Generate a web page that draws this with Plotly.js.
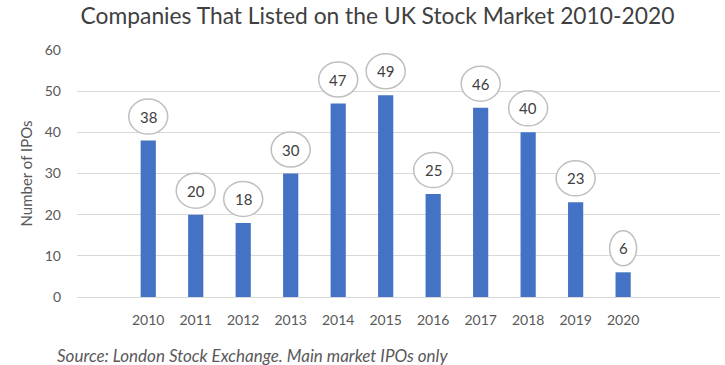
<!DOCTYPE html>
<html>
<head>
<meta charset="utf-8">
<script src="https://cdn.plot.ly/plotly-3.0.1.min.js"></script>
<style>html,body{margin:0;padding:0;background:#fff;}#chart{width:725px;height:365px;}</style>
</head>
<body>
<div id="chart"></div>
<script>
var years = [2010, 2011, 2012, 2013, 2014, 2015, 2016, 2017, 2018, 2019, 2020];
var ipos = [38, 20, 18, 30, 47, 49, 25, 46, 40, 23, 6];
var yTicks = [0, 10, 20, 30, 40, 50, 60];
var tickLabels = years.map(String);

var FONT = 'Lato, "Open Sans", sans-serif';
var TXT = '#595959';

var shapes = years.map(function (yr, i) {
  var w = String(ipos[i]).length > 1 ? 19.5 : 13.5;
  return {
    type: 'circle', xref: 'x', yref: 'y',
    xsizemode: 'pixel', ysizemode: 'pixel',
    xanchor: yr, yanchor: ipos[i],
    x0: -w, x1: w, y0: 6.5, y1: 41.5,
    line: {color: '#bfbfbf', width: 1.5},
    fillcolor: '#ffffff', layer: 'above'
  };
});

var annotations = years.map(function (yr, i) {
  return {
    x: yr, y: ipos[i], xref: 'x', yref: 'y',
    text: String(ipos[i]), showarrow: false,
    yshift: 24, font: {family: FONT, size: 15, color: '#404040'}
  };
});
annotations.push({
  xref: 'paper', yref: 'paper', x: -0.034, y: -0.237,
  xanchor: 'left', yanchor: 'middle', showarrow: false,
  text: '<i>Source: London Stock Exchange. Main market IPOs only</i>',
  font: {family: FONT, size: 17, color: TXT}
});

var data = [{
  type: 'bar', x: years, y: ipos, width: 0.32,
  marker: {color: '#4472c4', line: {width: 0}},
  hoverinfo: 'skip'
}];

var layout = {
  width: 725, height: 365,
  margin: {l: 77, r: 5, t: 50, b: 68},
  paper_bgcolor: '#ffffff', plot_bgcolor: '#ffffff',
  showlegend: false,
  title: {
    text: 'Companies That Listed on the UK Stock Market 2010-2020',
    x: 0.5207, xref: 'container', xanchor: 'center', y: 0.955, yanchor: 'middle',
    font: {family: FONT, size: 22.8, color: '#404040'}
  },
  font: {family: FONT, color: TXT, size: 14},
  xaxis: {
    type: 'linear', range: [2008.5, 2022.04],
    tickmode: 'array', tickvals: years, ticktext: tickLabels,
    showgrid: false, zeroline: false, showline: false, ticks: '',
    tickfont: {family: FONT, size: 14, color: TXT}, ticklabelstandoff: 13
  },
  yaxis: {
    range: [0, 60], tickmode: 'array', tickvals: yTicks,
    showgrid: true, gridcolor: '#d9d9d9', gridwidth: 1,
    zeroline: true, zerolinecolor: '#d9d9d9', zerolinewidth: 1,
    showline: false, ticks: '', ticklabelstandoff: 15,
    tickfont: {family: FONT, size: 14, color: TXT},
    title: {text: 'Number of IPOs', standoff: 8, font: {family: FONT, size: 15, color: TXT}}
  },
  shapes: shapes,
  annotations: annotations
};

Plotly.newPlot('chart', data, layout, {displayModeBar: false, staticPlot: true});
</script>
</body>
</html>
